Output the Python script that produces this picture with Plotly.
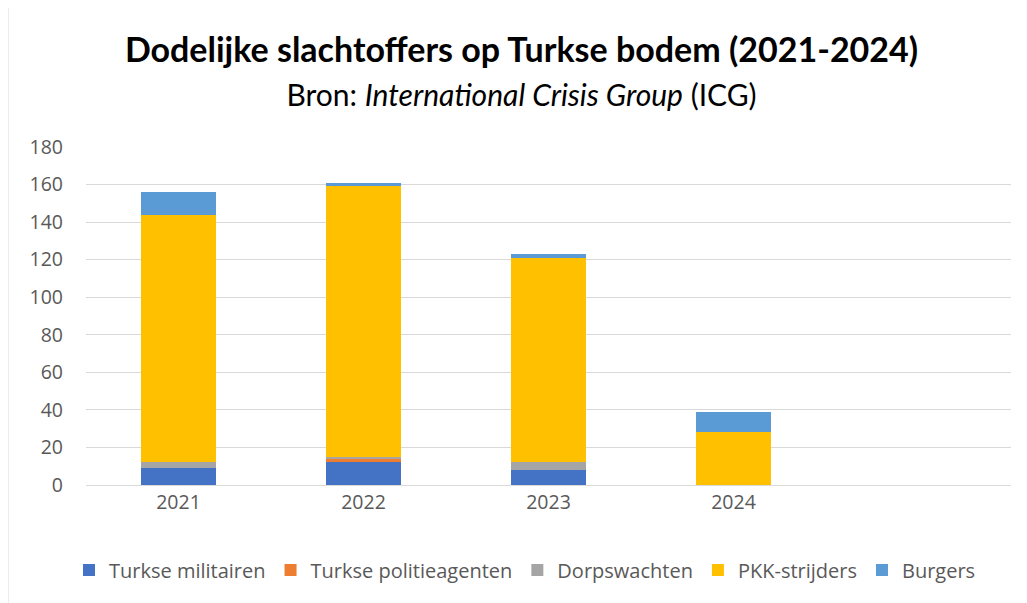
import plotly.graph_objects as go

years = ["2021", "2022", "2023", "2024"]
militairen = [9, 12, 8, 0]
politie = [0, 2, 0, 0]
dorpswachten = [3, 1, 4, 0]
pkk = [132, 144, 109, 28]
burgers = [12, 2, 2, 11]

series = [
    ("Turkse militairen", militairen, "#4472C4"),
    ("Turkse politieagenten", politie, "#ED7D31"),
    ("Dorpswachten", dorpswachten, "#A5A5A5"),
    ("PKK-strijders", pkk, "#FFC000"),
    ("Burgers", burgers, "#5B9BD5"),
]

title_font = "Lato, sans-serif"
body_font = "Open Sans, sans-serif"

fig = go.Figure()
for name, vals, color in series:
    fig.add_trace(go.Bar(
        x=years,
        y=vals,
        name=name,
        marker=dict(color=color, line=dict(width=0)),
    ))

fig.update_layout(
    barmode="stack",
    bargap=0.595,
    width=1027,
    height=603,
    paper_bgcolor="white",
    plot_bgcolor="white",
    font=dict(family=body_font, color="#595959", size=20),
    margin=dict(l=78, r=24, t=139, b=126, autoexpand=False),
    title=dict(
        text="<b>Dodelijke slachtoffers op Turkse bodem (2021-2024)</b><br>"
             "<span style='font-size:30px;font-weight:normal'>Bron: <i>International Crisis Group</i> (ICG)</span>",
        x=0.5,
        xanchor="center",
        y=0.91,
        yanchor="top",
        font=dict(family=title_font, size=34, color="black"),
    ),
    xaxis=dict(
        type="category",
        range=[-0.5, 4.5],
        showgrid=False,
        showline=True,
        linecolor="#D9D9D9",
        ticks="",
        tickfont=dict(size=19.5, color="#595959"),
    ),
    yaxis=dict(
        range=[0, 180],
        dtick=20,
        showgrid=True,
        gridcolor="#D9D9D9",
        gridwidth=1,
        zeroline=False,
        ticks="",
        ticklabelstandoff=22,
        tickfont=dict(size=19.5, color="#595959"),
    ),
    legend=dict(
        orientation="h",
        xref="container",
        x=517 / 1027,
        xanchor="center",
        yref="container",
        y=41 / 603,
        yanchor="middle",
        font=dict(size=20, color="#595959"),
        traceorder="normal",
    ),
    shapes=[
        dict(type="rect", xref="paper", yref="paper",
             x0=-78 / 925, x1=1.05, y0=-0.5, y1=1.5,
             line=dict(color="#D9D9D9", width=1), layer="below"),
    ],
)

fig.write_html("out.html")
